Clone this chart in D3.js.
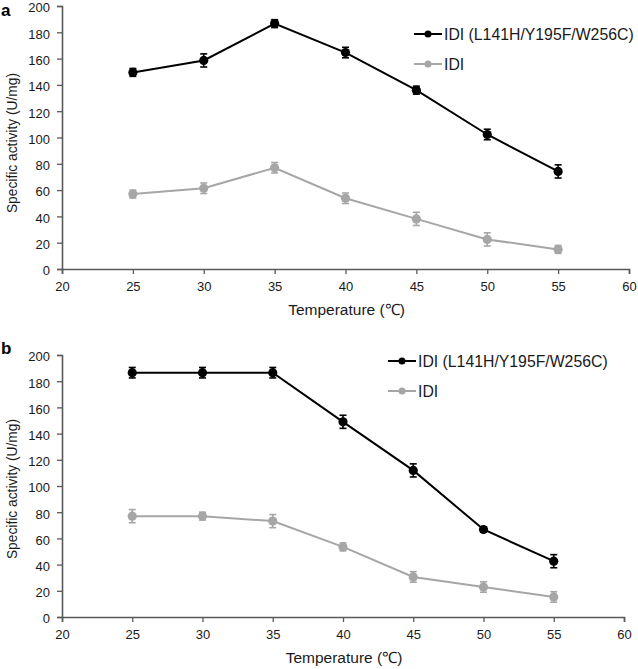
<!DOCTYPE html>
<html><head><meta charset="utf-8">
<script src="https://cdn.jsdelivr.net/npm/d3@7"></script>
<style>body{margin:0;background:#fff}svg{display:block}text{font-family:"Liberation Sans",Arial,sans-serif}</style>
</head><body>
<svg id="chart" width="638" height="669"></svg>
<script>
const temps = [25, 30, 35, 40, 45, 50, 55];
const seriesNames = ["IDI (L141H/Y195F/W256C)", "IDI"];
const seriesColors = ["#000000", "#a6a6a6"];
// Panel a
const aMutant = [149.5, 158.6, 186.6, 164.6, 136, 102.3, 74.2];
const aMutantErr = [3, 5, 3, 4, 3, 4, 5];
const aWild = [57, 61.4, 77, 53.8, 38.1, 22.5, 14.9];
const aWildErr = [3, 4, 4, 4, 5, 5, 3];
// Panel b
const bMutant = [186.5, 186.5, 186.5, 149, 111.9, 66.8, 42.6];
const bMutantErr = [4, 4, 4, 5, 5, 2, 5];
const bWild = [77, 77, 73.2, 53.5, 30.6, 22.9, 15.3];
const bWildErr = [5, 3, 5, 3, 4, 4, 4];
const xTicks = [20, 25, 30, 35, 40, 45, 50, 55, 60];
const yTicks = [0, 20, 40, 60, 80, 100, 120, 140, 160, 180, 200];

const svg = d3.select("#chart");

function panel(cfg) {
  const g = svg.append("g");
  const x = d3.scaleLinear().domain([20, 60]).range([cfg.x0, cfg.x1]);
  const y = d3.scaleLinear().domain([0, 200]).range([cfg.yb, cfg.yt]);
  const axisColor = "#595959";
  const gx = g.append("g").attr("transform", `translate(0,${cfg.yb})`)
    .call(d3.axisBottom(x).tickValues(xTicks).tickSize(5).tickPadding(8).tickFormat(d3.format("d")));
  const gy = g.append("g").attr("transform", `translate(${cfg.x0},0)`)
    .call(d3.axisLeft(y).tickValues(yTicks).tickSize(5).tickPadding(7).tickFormat(d3.format("d")));
  [gx, gy].forEach(a => {
    a.select(".domain").attr("stroke", axisColor).attr("stroke-width", 1.6);
    a.selectAll(".tick line").attr("stroke", axisColor).attr("stroke-width", 1.3);
    a.selectAll(".tick text").attr("fill", "#1a1a1a").style("font-size", "13px");
  });
  gy.selectAll(".tick text").attr("dy", "0.45em");
  // titles
  g.append("text").attr("x", (cfg.x0 + cfg.x1) / 2 + 1).attr("y", cfg.yb + 46)
    .attr("text-anchor", "middle").style("font-size", "15.5px").attr("fill", "#1a1a1a").text("Temperature (℃)");
  g.append("text").attr("transform", `translate(17,${cfg.ytitle}) scale(1.12,1) rotate(-90)`)
    .attr("text-anchor", "middle").style("font-size", "13.8px").attr("fill", "#1a1a1a").text("Specific activity (U/mg)");
  g.append("text").attr("x", 1).attr("y", cfg.labelY).style("font-size", "17px").style("font-weight", "bold").text(cfg.label);

  const line = d3.line().x((d, i) => x(temps[i])).y(d => y(d));
  cfg.series.forEach((s, k) => {
    const col = seriesColors[k];
    g.append("path").datum(s.v).attr("d", line).attr("fill", "none").attr("stroke", col).attr("stroke-width", 2);
    const eb = g.append("g");
    s.v.forEach((v, i) => {
      const cx = x(temps[i]), lo = y(v - s.e[i]), hi = y(v + s.e[i]);
      eb.append("line").attr("x1", cx).attr("x2", cx).attr("y1", lo).attr("y2", hi).attr("stroke", col).attr("stroke-width", 1.6);
      eb.append("line").attr("x1", cx - 3.5).attr("x2", cx + 3.5).attr("y1", lo).attr("y2", lo).attr("stroke", col).attr("stroke-width", 1.6);
      eb.append("line").attr("x1", cx - 3.5).attr("x2", cx + 3.5).attr("y1", hi).attr("y2", hi).attr("stroke", col).attr("stroke-width", 1.6);
    });
    g.selectAll(null).data(s.v).enter().append("circle")
      .attr("cx", (d, i) => x(temps[i])).attr("cy", d => y(d)).attr("r", 4.6).attr("fill", col);
  });
  // legend
  seriesNames.forEach((name, k) => {
    const ly = cfg.legY + k * 30;
    g.append("line").attr("x1", cfg.legX).attr("x2", cfg.legX + 28).attr("y1", ly).attr("y2", ly)
      .attr("stroke", seriesColors[k]).attr("stroke-width", 2);
    g.append("circle").attr("cx", cfg.legX + 14).attr("cy", ly).attr("r", 3.5).attr("fill", seriesColors[k]);
    g.append("text").attr("x", cfg.legX + 30).attr("y", ly + 5.5).style("font-size", "15.8px").attr("fill", "#1a1a1a").text(name);
  });
}

panel({label: "a", labelY: 16, x0: 62, x1: 629, yt: 6, yb: 269, ytitle: 143, legX: 414, legY: 34,
  series: [{v: aMutant, e: aMutantErr}, {v: aWild, e: aWildErr}]});
panel({label: "b", labelY: 354, x0: 62, x1: 624, yt: 355, yb: 617, ytitle: 489, legX: 388, legY: 361,
  series: [{v: bMutant, e: bMutantErr}, {v: bWild, e: bWildErr}]});
</script>
</body></html>
